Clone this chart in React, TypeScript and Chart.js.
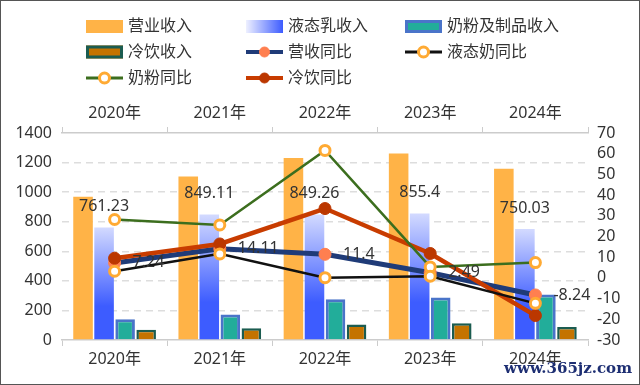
import React, { useEffect, useRef } from "react";
import { Chart, registerables } from "chart.js";

Chart.register(...registerables);

const years = ["2020年", "2021年", "2022年", "2023年", "2024年"];
const revenue = [968.86, 1105.95, 1231.71, 1261.79, 1157.8];
const liquidMilk = [761.23, 849.11, 849.26, 855.4, 750.03];
const milkPowder = [141, 172, 276, 288, 308];
const coldDrinks = [70, 80, 104, 114, 88];
const revenueYoY = [7.24, 14.11, 11.4, 2.49, -8.24];
const liquidYoY = [3.2, 11.6, 0.1, 0.8, -12.3];
const powderYoY = [28.2, 25.6, 61.6, 5.3, 7.4];
const coldYoY = [9.5, 16.4, 33.5, 11.8, -18.2];
const leftTicks = { min: 0, max: 1400, step: 200 };
const rightTicks = { min: -30, max: 70, step: 10 };

const FONT = "'Noto Sans', 'Noto Sans CJK SC', sans-serif";
const TXT = "#333333";

const C = {
  orange: "#FFB347",
  blueTop: "#D3DAFF",
  blue: "#3D5CFF",
  teal: "#22AD9A",
  tealBorder: "#4A74C9",
  brown: "#C47300",
  brownBorder: "#1B5C50",
  navy: "#1F3B78",
  coral: "#FF7F50",
  black: "#111111",
  ring: "#FFAA33",
  green: "#3C6E1E",
  red: "#C83C00",
  redDot: "#BB3700",
};

const legendItems = [
  { text: "营业收入", kind: "bar", fill: C.orange },
  { text: "液态乳收入", kind: "grad" },
  { text: "奶粉及制品收入", kind: "bar", fill: C.teal, border: C.tealBorder, bw: 3 },
  { text: "冷饮收入", kind: "bar", fill: C.brown, border: C.brownBorder, bw: 3 },
  { text: "营收同比", kind: "line", line: C.navy, lw: 4, dot: C.coral, dotBorder: C.coral },
  { text: "液态奶同比", kind: "line", line: C.black, lw: 3, dot: "#ffffff", dotBorder: C.ring },
  { text: "奶粉同比", kind: "line", line: C.green, lw: 3, dot: "#ffffff", dotBorder: C.ring },
  { text: "冷饮同比", kind: "line", line: C.red, lw: 4, dot: C.redDot, dotBorder: C.redDot },
];

const legendPlugin = {
  id: "customLegend",
  afterDraw(chart: any) {
    const ctx = chart.ctx;
    const colX = [86, 246, 405];
    const rowY = [26.5, 52, 78];
    ctx.save();
    legendItems.forEach((it: any, i: number) => {
      const x = colX[i % 3];
      const y = rowY[Math.floor(i / 3)];
      const w = 37;
      const h = 13;
      if (it.kind === "bar") {
        ctx.fillStyle = it.fill;
        ctx.fillRect(x, y - h / 2, w, h);
        if (it.border) {
          ctx.strokeStyle = it.border;
          ctx.lineWidth = it.bw;
          ctx.strokeRect(x + it.bw / 2, y - h / 2 + it.bw / 2, w - it.bw, h - it.bw);
        }
      } else if (it.kind === "grad") {
        const g = ctx.createLinearGradient(x, 0, x + w, 0);
        g.addColorStop(0, "#EEF0FF");
        g.addColorStop(1, C.blue);
        ctx.fillStyle = g;
        ctx.fillRect(x, y - h / 2, w, h);
      } else {
        ctx.strokeStyle = it.line;
        ctx.lineWidth = it.lw;
        ctx.beginPath();
        ctx.moveTo(x, y);
        ctx.lineTo(x + w, y);
        ctx.stroke();
        ctx.beginPath();
        ctx.arc(x + w / 2, y, 5, 0, Math.PI * 2);
        ctx.fillStyle = it.dot;
        ctx.fill();
        ctx.lineWidth = it.dot === "#ffffff" ? 3 : 1;
        ctx.strokeStyle = it.dotBorder;
        ctx.stroke();
      }
      ctx.fillStyle = TXT;
      ctx.font = `16px ${FONT}`;
      ctx.textBaseline = "middle";
      ctx.textAlign = "left";
      ctx.fillText(it.text, x + 42, y);
    });
    // watermark
    ctx.font = `bold 15px 'DejaVu Serif', serif`;
    ctx.fillStyle = "#1E2F73";
    ctx.textAlign = "right";
    ctx.textBaseline = "middle";
    ctx.fillText("www.365jz.com", 632, 369);
    // frame
    ctx.strokeStyle = "#555555";
    ctx.lineWidth = 1;
    ctx.strokeRect(0.5, 0.5, chart.width - 1, chart.height - 1);
    ctx.restore();
  },
};

const labelPlugin = {
  id: "valueLabels",
  afterDatasetsDraw(chart: any) {
    const ctx = chart.ctx;
    ctx.save();
    ctx.font = `16px ${FONT}`;
    ctx.fillStyle = TXT;
    ctx.textBaseline = "middle";
    const liqMeta = chart.getDatasetMeta(1);
    liqMeta.data.forEach((el: any, i: number) => {
      ctx.textAlign = "center";
      ctx.fillText(String(liquidMilk[i]), el.x, el.y - 21);
    });
    const revMeta = chart.getDatasetMeta(4);
    revMeta.data.forEach((el: any, i: number) => {
      ctx.textAlign = "left";
      ctx.fillText(String(revenueYoY[i]), el.x + 18, el.y);
    });
    ctx.restore();
  },
};

export default function App() {
  const ref = useRef<HTMLCanvasElement | null>(null);
  useEffect(() => {
    document.body.style.margin = "0";
    const canvas = ref.current!;
    const liquidBg = (c: any) => {
      const chart = c.chart;
      const area = chart.chartArea;
      if (!area) return C.blue;
      const yScale = chart.scales.y;
      const v = c.raw ?? 0;
      const top = yScale.getPixelForValue(v);
      const bottom = yScale.getPixelForValue(0);
      const g = chart.ctx.createLinearGradient(0, top, 0, top + (bottom - top) * 0.7);
      g.addColorStop(0, C.blueTop);
      g.addColorStop(1, C.blue);
      return g;
    };
    const chart = new Chart(canvas, {
      type: "bar",
      data: {
        labels: years,
        datasets: [
          { type: "bar", label: "营业收入", data: revenue, backgroundColor: C.orange, yAxisID: "y", order: 10 } as any,
          { type: "bar", label: "液态乳收入", data: liquidMilk, backgroundColor: liquidBg, yAxisID: "y", order: 10 },
          { type: "bar", label: "奶粉及制品收入", data: milkPowder, backgroundColor: C.teal, borderColor: C.tealBorder, borderWidth: 3, yAxisID: "y", order: 10 },
          { type: "bar", label: "冷饮收入", data: coldDrinks, backgroundColor: C.brown, borderColor: C.brownBorder, borderWidth: 2.5, yAxisID: "y", order: 10 },
          { type: "line", label: "营收同比", data: revenueYoY, borderColor: C.navy, borderWidth: 5, pointRadius: 6, pointBackgroundColor: C.coral, pointBorderColor: C.coral, pointBorderWidth: 1, yAxisID: "y1", order: 4 },
          { type: "line", label: "液态奶同比", data: liquidYoY, borderColor: C.black, borderWidth: 2.5, pointRadius: 5, pointBackgroundColor: "#ffffff", pointBorderColor: C.ring, pointBorderWidth: 3, yAxisID: "y1", order: 1 },
          { type: "line", label: "奶粉同比", data: powderYoY, borderColor: C.green, borderWidth: 2.5, pointRadius: 5, pointBackgroundColor: "#ffffff", pointBorderColor: C.ring, pointBorderWidth: 3, yAxisID: "y1", order: 2 },
          { type: "line", label: "冷饮同比", data: coldYoY, borderColor: C.red, borderWidth: 4.5, pointRadius: 6, pointBackgroundColor: C.redDot, pointBorderColor: C.redDot, pointBorderWidth: 1, yAxisID: "y1", order: 3 },
        ],
      },
      options: {
        animation: false,
        responsive: false,
        devicePixelRatio: 1,
        layout: { padding: { top: 90, left: 0, right: 0, bottom: 0 } },
        datasets: { bar: { categoryPercentage: 0.8, barPercentage: 0.93 } },
        plugins: { legend: { display: false }, tooltip: { enabled: false } },
        scales: {
          x: {
            position: "bottom",
            offset: true,
            grid: { display: true, drawOnChartArea: false, drawTicks: true, tickLength: 6, color: "#CCCCCC", offset: true },
            border: { display: true, color: "#CCCCCC", width: 1.5 },
            ticks: { color: TXT, font: { family: FONT, size: 16 }, padding: 4 },
            afterFit: (s: any) => { s.height = 45; },
          },
          xTop: {
            type: "category",
            position: "top",
            offset: true,
            labels: years,
            grid: { display: true, drawOnChartArea: false, drawTicks: true, tickLength: 6, color: "#CCCCCC", offset: true },
            border: { display: true, color: "#CCCCCC", width: 1.5 },
            ticks: { color: TXT, font: { family: FONT, size: 16 }, padding: 4 },
            afterFit: (s: any) => { s.height = 43; },
          },
          y: {
            position: "left",
            min: leftTicks.min,
            max: leftTicks.max,
            ticks: { stepSize: leftTicks.step, autoSkip: false, callback: (v: any) => String(v), color: TXT, font: { family: FONT, size: 16 }, padding: 10 },
            grid: {
              drawTicks: false,
              color: (c: any) => (c.tick && (c.tick.value === leftTicks.min || c.tick.value === leftTicks.max) ? "rgba(0,0,0,0)" : "#DDDDDD"),
              lineWidth: 1.5,
            },
            border: { display: false, dash: [7, 5] },
            afterFit: (s: any) => { s.width = 62; },
          },
          y1: {
            position: "right",
            min: rightTicks.min,
            max: rightTicks.max,
            ticks: { stepSize: rightTicks.step, autoSkip: false, callback: (v: any) => String(v), color: TXT, font: { family: FONT, size: 16 }, padding: 9 },
            grid: { display: false, drawTicks: false },
            border: { display: false },
            afterFit: (s: any) => { s.width = 52; },
          },
        },
      } as any,
      plugins: [legendPlugin, labelPlugin],
    });
    return () => chart.destroy();
  }, []);
  return <canvas ref={ref} width={640} height={385} style={{ display: "block", width: 640, height: 385 }} />;
}
